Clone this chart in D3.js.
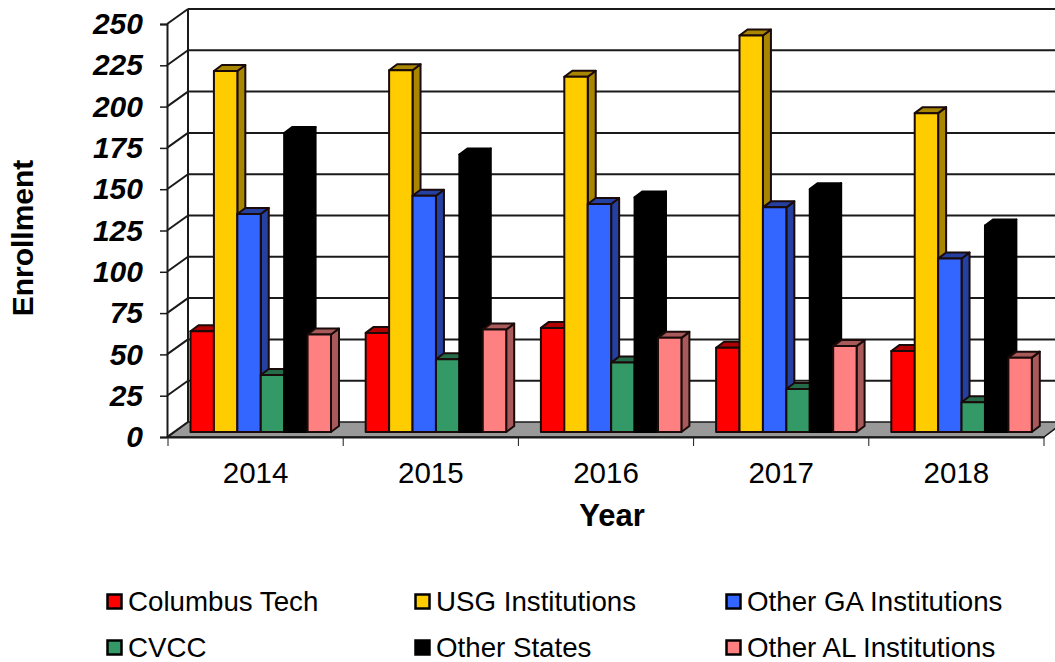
<!DOCTYPE html>
<html>
<head>
<meta charset="utf-8">
<script src="https://cdn.jsdelivr.net/npm/d3@7"></script>
<style>
  html, body { margin: 0; padding: 0; background: #fff; }
  svg { display: block; }
  text { font-family: "Liberation Sans", Arial, sans-serif; fill: #000; }
</style>
</head>
<body>
<svg id="chart" width="1055" height="662"></svg>
<script>
const years = ['2014', '2015', '2016', '2017', '2018'];
const seriesNames = ['Columbus Tech', 'USG Institutions', 'Other GA Institutions', 'CVCC', 'Other States', 'Other AL Institutions'];
const columbusTech = [61, 60, 63, 51, 49];
const usgInstitutions = [218.5, 219, 215, 240, 193];
const otherGA = [132, 143, 138, 136, 105];
const cvcc = [34.5, 44, 42, 26, 18];
const otherStates = [181, 168, 142, 147, 125];
const otherAL = [59, 62, 57, 52, 45];
const seriesValues = [columbusTech, usgInstitutions, otherGA, cvcc, otherStates, otherAL];
const frontColors = ['#ff0000', '#ffcc00', '#3366ff', '#339966', '#000000', '#ff8080'];
const sideColors = ['#b00000', '#a88600', '#2440a0', '#246b4a', '#000000', '#a85a5a'];
const strokeColors = ['#1a0a0a', '#1a0a0a', '#1a0a0a', '#1a0a0a', '#000000', '#1a0a0a'];
const yTicks = d3.range(0, 251, 25);

const svg = d3.select('#chart');
const line = '#1a1a1a';

// the chart's fake 3D: back wall is shifted by depth, bars sit part way in
const depthX = 20, depthY = -15;
const barDepthX = 8, barDepthY = -6;
const barInsetY = -5;

const x = d3.scaleBand().domain(years).range([168, 1044]);
const y = d3.scaleLinear().domain([0, 250]).range([437, 24]);
const inner = d3.scaleBand().domain(seriesNames).range([22.5, 163]);

const floorY = y(0);
const poly = pts => pts.map(p => p.join(',')).join(' ');

// floor
svg.append('polygon')
  .attr('points', poly([[168, floorY], [168 + depthX, floorY + depthY], [1044 + depthX, floorY + depthY], [1044, floorY]]))
  .attr('fill', '#999999')
  .attr('stroke', line)
  .attr('stroke-width', 1.5);

// back wall grid + left wall diagonals
const grid = svg.append('g').attr('fill', 'none').attr('stroke', line).attr('stroke-width', 2);
grid.selectAll('line.back')
  .data(yTicks.slice(1))
  .join('line')
  .attr('class', 'back')
  .attr('x1', 168 + depthX).attr('x2', 1055)
  .attr('y1', d => y(d) + depthY).attr('y2', d => y(d) + depthY);
grid.selectAll('line.side')
  .data(yTicks)
  .join('line')
  .attr('class', 'side')
  .attr('x1', 167).attr('x2', 168 + depthX)
  .attr('y1', d => y(d)).attr('y2', d => y(d) + depthY);
grid.append('line')
  .attr('x1', 168 + depthX).attr('x2', 168 + depthX)
  .attr('y1', y(0) + depthY).attr('y2', y(250) + depthY);

// bars, left to right so each one covers its neighbour's side
const groups = svg.selectAll('g.year')
  .data(years)
  .join('g')
  .attr('class', 'year')
  .attr('transform', d => `translate(${x(d)},0)`);

seriesNames.forEach((name, s) => {
  const bar = groups.append('g')
    .attr('stroke', strokeColors[s])
    .attr('stroke-width', 2)
    .attr('stroke-linejoin', 'round');
  const bx = inner(name), w = inner.bandwidth();
  const topY = i => y(seriesValues[s][i]) + barInsetY;
  const baseY = y(0) + barInsetY;

  bar.append('polygon')
    .attr('fill', sideColors[s])
    .attr('points', (d, i) => poly([[bx + w, topY(i)], [bx + w + barDepthX, topY(i) + barDepthY], [bx + w + barDepthX, baseY + barDepthY], [bx + w, baseY]]));
  bar.append('polygon')
    .attr('fill', sideColors[s])
    .attr('points', (d, i) => poly([[bx, topY(i)], [bx + barDepthX, topY(i) + barDepthY], [bx + w + barDepthX, topY(i) + barDepthY], [bx + w, topY(i)]]));
  bar.append('rect')
    .attr('fill', frontColors[s])
    .attr('x', bx).attr('width', w)
    .attr('y', (d, i) => topY(i))
    .attr('height', (d, i) => baseY - topY(i));
});

// y axis
const yAxis = svg.append('g')
  .attr('transform', 'translate(167,0)')
  .call(d3.axisLeft(y).tickValues(yTicks).tickSize(7).tickPadding(17));
yAxis.selectAll('path').attr('stroke', line).attr('stroke-width', 2);
yAxis.selectAll('line').attr('stroke', line).attr('stroke-width', 1.5);
yAxis.selectAll('text')
  .style('font-size', '30px').style('font-weight', 'bold').style('font-style', 'italic')
  .style('font-family', '"Liberation Sans", Arial, sans-serif');

// x axis: labels centred in the band, ticks on the band edges
const xAxis = svg.append('g')
  .attr('transform', `translate(0,${floorY})`)
  .call(d3.axisBottom(x).tickSize(0).tickPadding(25));
xAxis.select('path').attr('stroke', line).attr('stroke-width', 2);
xAxis.selectAll('text')
  .style('font-size', '29.5px')
  .style('font-family', '"Liberation Sans", Arial, sans-serif');
xAxis.selectAll('line.edge')
  .data(years.map(d => x(d)).concat([x.range()[1]]))
  .join('line')
  .attr('class', 'edge')
  .attr('x1', d => d).attr('x2', d => d)
  .attr('y1', 0).attr('y2', 9)
  .attr('stroke', line)
  .attr('stroke-width', 1);

// axis titles
svg.append('text')
  .attr('x', 612).attr('y', 526)
  .attr('text-anchor', 'middle')
  .style('font-size', '31px').style('font-weight', 'bold')
  .text('Year');
svg.append('text')
  .attr('transform', 'translate(33,238) rotate(-90)')
  .attr('text-anchor', 'middle')
  .style('font-size', '30px').style('font-weight', 'bold')
  .text('Enrollment');

// legend
const legendX = [106, 414, 725];
const legendY = [602, 648];
const legend = svg.selectAll('g.legend')
  .data(seriesNames)
  .join('g')
  .attr('class', 'legend')
  .attr('transform', (d, i) => `translate(${legendX[i % 3]},${legendY[Math.floor(i / 3)]})`);
legend.append('rect')
  .attr('x', 1.5).attr('y', -7.5)
  .attr('width', 14).attr('height', 14)
  .attr('fill', (d, i) => frontColors[i])
  .attr('stroke', '#000')
  .attr('stroke-width', 2.5);
legend.append('text')
  .attr('x', 22).attr('y', 9)
  .style('font-size', '27.7px')
  .text(d => d);
</script>
</body>
</html>
